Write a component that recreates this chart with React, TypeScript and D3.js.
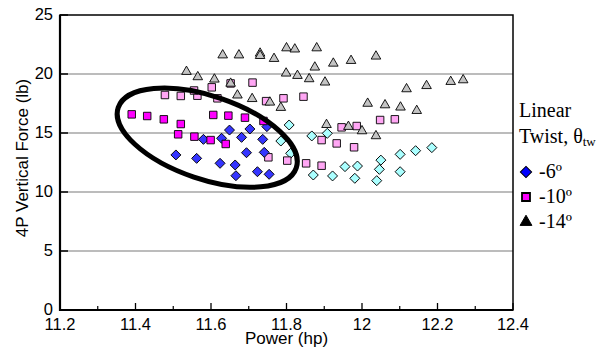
import { useEffect, useRef } from 'react';
import * as d3 from 'd3';

type Pt = [number, number]; // [power (hp), force (lb)]

// -6 deg twist, highlighted runs (inside the ellipse)
const sixDark: Pt[] = [
  [11.507, 13.14], [11.562, 12.85], [11.58, 14.46], [11.624, 12.43], [11.628, 14.55],
  [11.649, 15.25], [11.664, 12.29], [11.666, 11.38], [11.681, 14.63], [11.694, 13.33],
  [11.703, 15.34], [11.723, 11.72], [11.737, 14.46], [11.741, 13.36], [11.748, 15.54],
  [11.754, 11.5],
];
// -6 deg twist, other runs
const sixLight: Pt[] = [
  [11.785, 14.32], [11.807, 15.68], [11.811, 13.28], [11.867, 14.75], [11.871, 11.44],
  [11.908, 14.97], [11.922, 11.36], [11.955, 12.15], [11.988, 12.2], [11.981, 11.16],
  [12.05, 12.7], [12.046, 11.92], [12.039, 10.96], [12.101, 13.19], [12.142, 13.5],
  [12.185, 13.76], [12.101, 11.72],
];
// -10 deg twist, highlighted runs
const tenDark: Pt[] = [
  [11.39, 16.58], [11.431, 16.44], [11.475, 16.16], [11.52, 15.76], [11.513, 14.89],
  [11.556, 14.69], [11.599, 14.4], [11.606, 16.53], [11.646, 16.47], [11.69, 16.3],
  [11.739, 16.02], [11.639, 14.07],
];
// -10 deg twist, other runs
const tenLight: Pt[] = [
  [11.478, 18.22], [11.52, 18.14], [11.564, 18.16], [11.555, 18.6], [11.602, 18.87],
  [11.617, 17.94], [11.652, 19.2], [11.71, 19.27], [11.746, 17.7], [11.792, 17.94],
  [11.845, 18.08], [11.893, 14.4], [11.752, 12.94], [11.802, 12.66], [11.852, 12.43],
  [11.893, 12.23], [11.946, 15.48], [11.986, 15.59], [12.048, 16.1], [12.087, 16.16],
  [11.933, 14.12], [11.979, 13.79],
];
// -14 deg twist
const fourteen: Pt[] = [
  [11.535, 20.2], [11.565, 19.75], [11.609, 19.55], [11.631, 21.6], [11.652, 19.2],
  [11.674, 21.6], [11.73, 21.75], [11.73, 21.55], [11.767, 21.3], [11.8, 22.2],
  [11.822, 22.1], [11.88, 22.2], [11.799, 20.06], [11.829, 19.86], [11.86, 19.58],
  [11.875, 20.57], [11.902, 19.3], [11.67, 18.2], [11.709, 17.9], [11.756, 17.6],
  [11.785, 17.15], [11.906, 15.7], [11.924, 20.9], [11.971, 21.13], [12.037, 21.5],
  [12.118, 18.73], [12.171, 19.0], [12.235, 19.35], [12.268, 19.49], [12.015, 17.5],
  [12.061, 17.37], [12.102, 17.18], [12.145, 16.89], [11.964, 15.54], [12.0, 15.17],
  [12.037, 14.75],
];

const xTicks = [11.2, 11.4, 11.6, 11.8, 12, 12.2, 12.4];
const xMinor = [11.3, 11.5, 11.7, 11.9, 12.1, 12.3];
const yTicks = [0, 5, 10, 15, 20, 25];
const legendItems = ['-6º', '-10º', '-14º'];

// ellipse around the highlighted runs (data units for center and radii)
const ring = { cx: 11.59, cy: 14.6, rx: 0.249, ry: 3.52, angle: 18.7 };

export default function App() {
  const svgRef = useRef<SVGSVGElement>(null);
  const width = 603;
  const height = 350;

  useEffect(() => {
    document.body.style.margin = '0';
    if (!svgRef.current) return;
    const svg = d3.select(svgRef.current);
    svg.selectAll('*').remove();

    const x = d3.scaleLinear().domain([11.2, 12.4]).range([60, 513]);
    const y = d3.scaleLinear().domain([0, 25]).range([310, 15]);
    const sans = 'Arial, "Liberation Sans", sans-serif';
    const serif = '"Times New Roman", "Liberation Serif", serif';

    // gridlines
    svg.append('g')
      .selectAll('line')
      .data(yTicks.filter(d => d > 0 && d < 25))
      .enter()
      .append('line')
      .attr('x1', x(11.2))
      .attr('x2', x(12.4))
      .attr('y1', d => y(d))
      .attr('y2', d => y(d))
      .attr('stroke', '#7a7a7a')
      .attr('stroke-width', 1.2);

    // y ticks (inside)
    svg.append('g')
      .selectAll('line')
      .data(yTicks)
      .enter()
      .append('line')
      .attr('x1', x(11.2))
      .attr('x2', x(11.2) + 8)
      .attr('y1', d => y(d))
      .attr('y2', d => y(d))
      .attr('stroke', '#000')
      .attr('stroke-width', 1.5);

    // x ticks (inside)
    svg.append('g')
      .selectAll('line')
      .data(xTicks)
      .enter()
      .append('line')
      .attr('x1', d => x(d))
      .attr('x2', d => x(d))
      .attr('y1', y(0))
      .attr('y2', y(0) - 7)
      .attr('stroke', '#000')
      .attr('stroke-width', 1.3);
    svg.append('g')
      .selectAll('line')
      .data(xMinor)
      .enter()
      .append('line')
      .attr('x1', d => x(d))
      .attr('x2', d => x(d))
      .attr('y1', y(0))
      .attr('y2', y(0) - 4)
      .attr('stroke', '#000')
      .attr('stroke-width', 1.2);

    // frame
    svg.append('rect')
      .attr('x', x(11.2))
      .attr('y', y(25))
      .attr('width', x(12.4) - x(11.2))
      .attr('height', y(0) - y(25))
      .attr('fill', 'none')
      .attr('stroke', '#000')
      .attr('stroke-width', 1.5);
    svg.append('path')
      .attr('d', `M${x(11.2)},${y(25)}V${y(0)}H${x(12.4)}`)
      .attr('fill', 'none')
      .attr('stroke', '#000')
      .attr('stroke-width', 2.2);

    // tick labels
    svg.append('g')
      .selectAll('text')
      .data(yTicks)
      .enter()
      .append('text')
      .attr('x', 53)
      .attr('y', d => y(d) - 1)
      .attr('text-anchor', 'end')
      .attr('dominant-baseline', 'central')
      .attr('font-family', sans)
      .attr('font-size', '16.5px')
      .text(d => String(d));
    svg.append('g')
      .selectAll('text')
      .data(xTicks)
      .enter()
      .append('text')
      .attr('x', d => x(d))
      .attr('y', 330)
      .attr('text-anchor', 'middle')
      .attr('font-family', sans)
      .attr('font-size', '16.5px')
      .text(d => String(+d.toFixed(1)));

    // axis titles
    svg.append('text')
      .attr('x', (x(11.2) + x(12.4)) / 2)
      .attr('y', 344)
      .attr('text-anchor', 'middle')
      .attr('font-family', sans)
      .attr('font-size', '17px')
      .text('Power (hp)');
    svg.append('text')
      .attr('transform', `translate(28, 158) rotate(-90)`)
      .attr('text-anchor', 'middle')
      .attr('font-family', sans)
      .attr('font-size', '17px')
      .text('4P Vertical Force (lb)');

    const sq = d3.symbol().type(d3.symbolSquare);
    const tri = d3.symbol().type(d3.symbolTriangle);

    const drawSeries = (data: Pt[], kind: 'diamond' | 'square' | 'triangle', fill: string) => {
      const g = svg.append('g');
      const path = kind === 'triangle' ? tri.size(40)() : sq.size(kind === 'diamond' ? 50 : 56)();
      g.selectAll('path')
        .data(data)
        .enter()
        .append('path')
        .attr('d', path)
        .attr('transform', d =>
          `translate(${x(d[0])},${y(d[1])})${kind === 'diamond' ? ' rotate(45)' : ''}`)
        .attr('fill', fill)
        .attr('stroke', '#000')
        .attr('stroke-width', 0.9);
    };

    drawSeries(sixLight, 'diamond', '#aaffff');
    drawSeries(tenLight, 'square', '#ffa6f4');
    drawSeries(fourteen, 'triangle', '#c4c4c4');
    drawSeries(sixDark, 'diamond', '#3535ff');
    drawSeries(tenDark, 'square', '#ff00ff');

    // highlight ellipse
    svg.append('ellipse')
      .attr('cx', 0)
      .attr('cy', 0)
      .attr('rx', x(ring.cx + ring.rx) - x(ring.cx))
      .attr('ry', y(ring.cy - ring.ry) - y(ring.cy))
      .attr('transform', `translate(${x(ring.cx)},${y(ring.cy)}) rotate(${ring.angle})`)
      .attr('fill', 'none')
      .attr('stroke', '#000')
      .attr('stroke-width', 5);

    // legend
    const lg = svg.append('g');
    lg.append('text')
      .attr('x', 519)
      .attr('y', 117)
      .attr('font-family', serif)
      .attr('font-size', '20px')
      .text('Linear');
    const tw = lg.append('text')
      .attr('x', 519)
      .attr('y', 143)
      .attr('font-family', serif)
      .attr('font-size', '20px');
    tw.append('tspan').text('Twist, θ');
    tw.append('tspan')
      .attr('font-size', '13px')
      .attr('dy', 3)
      .text('tw');

    const kinds: ('diamond' | 'square' | 'triangle')[] = ['diamond', 'square', 'triangle'];
    const legendFill = ['#0000ff', '#ff00ff', '#000'];
    legendItems.forEach((label, i) => {
      const cy = 172 + i * 25;
      const k = kinds[i];
      const path = k === 'triangle' ? tri.size(60)() : sq.size(64)();
      lg.append('path')
        .attr('d', path)
        .attr('transform', `translate(526,${cy})${k === 'diamond' ? ' rotate(45)' : ''}`)
        .attr('fill', legendFill[i])
        .attr('stroke', '#000')
        .attr('stroke-width', k === 'square' ? 1.8 : 1);
      lg.append('text')
        .attr('x', 539)
        .attr('y', cy + 6)
        .attr('font-family', serif)
        .attr('font-size', '20px')
        .text(label);
    });
  }, []);

  return (
    <svg
      ref={svgRef}
      width={width}
      height={height}
      style={{ display: 'block', background: '#fff' }}
    />
  );
}
